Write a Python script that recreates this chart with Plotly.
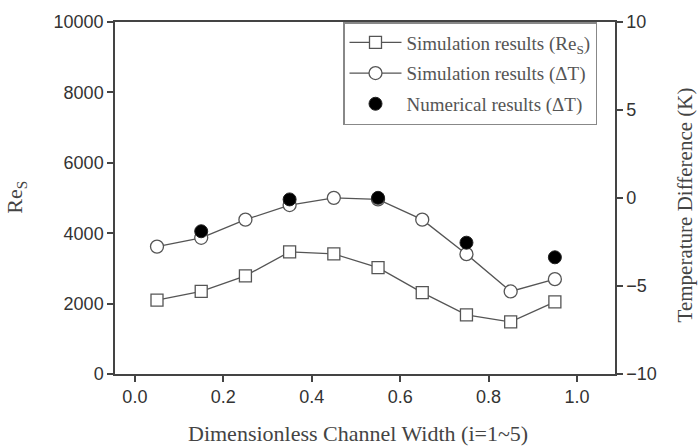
import plotly.graph_objects as go

x_vals = [0.05, 0.15, 0.25, 0.35, 0.45, 0.55, 0.65, 0.75, 0.85, 0.95]
re_sim = [2100, 2350, 2790, 3470, 3410, 3020, 2310, 1680, 1480, 2050]
dt_sim = [-2.76, -2.26, -1.23, -0.40, 0.01, -0.08, -1.23, -3.19, -5.31, -4.61]
x_num = [0.15, 0.35, 0.55, 0.75, 0.95]
dt_num = [-1.89, -0.08, 0.01, -2.54, -3.37]

x_ticks = [0.0, 0.2, 0.4, 0.6, 0.8, 1.0]
x_ticktext = ["0.0", "0.2", "0.4", "0.6", "0.8", "1.0"]
re_ticks = [0, 2000, 4000, 6000, 8000, 10000]
re_ticktext = ["0", "2000", "4000", "6000", "8000", "10000"]
dt_ticks = [-10, -5, 0, 5, 10]

axis_col = "#444444"
line_col = "#555555"
serif = "Liberation Serif, Times New Roman, serif"
sans = "Liberation Sans, Arial, sans-serif"

fig = go.Figure()
fig.add_trace(go.Scatter(
    x=x_vals, y=re_sim, mode="lines+markers", name="Simulation results (Re<sub>S</sub>)",
    line=dict(color=line_col, width=1.3),
    marker=dict(symbol="square", size=12, color="white", line=dict(color=line_col, width=1.3)),
    legendgroup="a"))
fig.add_trace(go.Scatter(
    x=x_vals, y=dt_sim, mode="lines+markers", name="Simulation results (ΔT)", yaxis="y2",
    line=dict(color=line_col, width=1.3),
    marker=dict(symbol="circle", size=13, color="white", line=dict(color=line_col, width=1.3)),
    legendgroup="b"))
fig.add_trace(go.Scatter(
    x=x_num, y=dt_num, mode="markers", name="Numerical results (ΔT)", yaxis="y2",
    marker=dict(symbol="circle", size=13, color="black", line=dict(color="#222222", width=1)),
    legendgroup="c"))

title_font = dict(family=serif, size=21, color="#444444")

fig.update_layout(
    width=700, height=447,
    margin=dict(l=115, r=85, t=13, b=73),
    plot_bgcolor="white", paper_bgcolor="white",
    showlegend=True,
    legend=dict(x=0.456, y=1.0, xanchor="left", yanchor="top",
                bordercolor="#888888", borderwidth=1.5, bgcolor="white",
                font=dict(family=serif, size=19, color="#555555"),
                itemwidth=52,
                traceorder="grouped", tracegroupgap=3),
    xaxis=dict(range=[-0.045, 1.086], tickvals=x_ticks, ticktext=x_ticktext,
               showgrid=False, zeroline=False, showline=True, linecolor=axis_col, linewidth=1.5,
               mirror=True,
               ticks="outside", ticklen=6, tickcolor=axis_col, tickwidth=1.5,
               tickfont=dict(family=sans, size=18, color="#333333")),
    yaxis=dict(range=[0, 10000], tickvals=re_ticks, ticktext=re_ticktext,
               showgrid=False, zeroline=False, showline=True, linecolor=axis_col, linewidth=1.5,
               ticks="outside", ticklen=6, tickcolor=axis_col, tickwidth=1.5,
               tickfont=dict(family=sans, size=18, color="#333333")),
    yaxis2=dict(range=[-10, 10], tickvals=dt_ticks, overlaying="y", side="right",
                showgrid=False, zeroline=False, showline=True, linecolor=axis_col, linewidth=1.5,
                ticks="outside", ticklen=6, tickcolor=axis_col, tickwidth=1.5,
                tickfont=dict(family=sans, size=18, color="#333333")),
    annotations=[
        dict(text="Dimensionless Channel Width (i=1~5)", xref="paper", yref="paper",
             x=0.485, y=-0.170, xanchor="center", yanchor="middle", showarrow=False,
             font=dict(family=serif, size=22, color="#444444")),
        dict(text="Re<sub>S</sub>", xref="paper", yref="paper",
             x=-0.198, y=0.501, xanchor="center", yanchor="middle", showarrow=False,
             textangle=-90, font=dict(family=serif, size=22, color="#444444")),
        dict(text="Temperature Difference (K)", xref="paper", yref="paper",
             x=1.140, y=0.479, xanchor="center", yanchor="middle", showarrow=False,
             textangle=-90, font=title_font),
    ],
)

fig.write_html("out.html")
